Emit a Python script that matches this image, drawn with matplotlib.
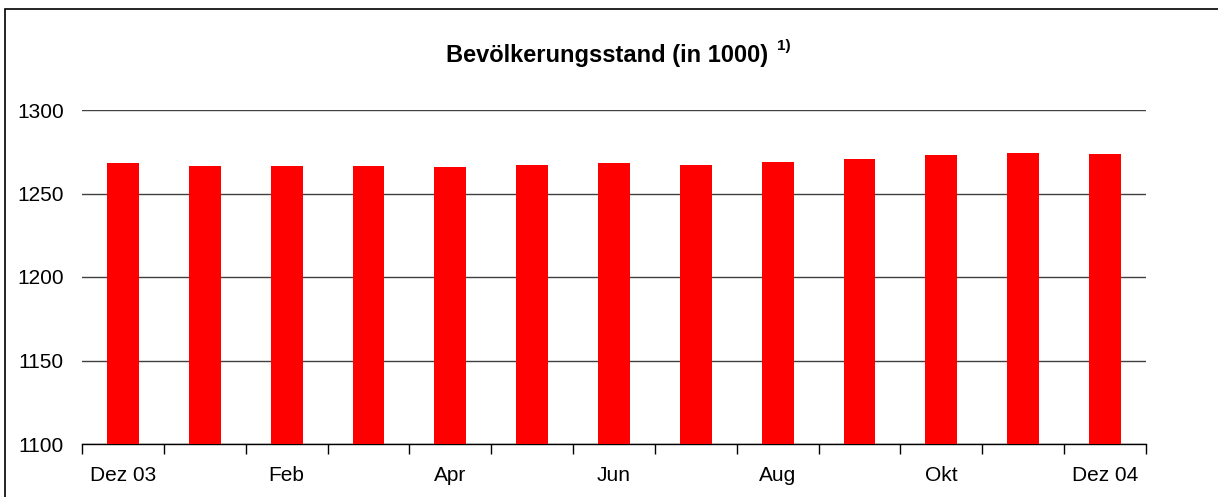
import matplotlib
matplotlib.use("Agg")
import matplotlib.pyplot as plt
from matplotlib.patches import Rectangle
from matplotlib.ticker import FixedLocator

plt.rcParams['font.family'] = ['Liberation Sans', 'DejaVu Sans']

# Monthly population (in 1000), Dez 03 .. Dez 04
months = ['Dez 03', 'Jan', 'Feb', 'Mrz', 'Apr', 'Mai', 'Jun',
          'Jul', 'Aug', 'Sep', 'Okt', 'Nov', 'Dez 04']
population = [1268.3, 1266.5, 1266.5, 1266.5, 1265.9, 1267.0, 1268.3,
              1267.0, 1268.9, 1270.7, 1273.1, 1274.3, 1273.7]
y_ticks = [1100, 1150, 1200, 1250, 1300]

RED = '#ff0000'
GRID = '#404040'

fig = plt.figure(figsize=(12.18, 4.97), dpi=100)
fig.patch.set_facecolor('white')
ax = fig.add_axes((82 / 1218, 1 - 444 / 497, (1146 - 82) / 1218, (444 - 110) / 497))

x = list(range(len(months)))
ax.bar(x, population, width=0.39, color=RED, zorder=3)

ax.set_xlim(-0.5, len(months) - 0.5)
ax.set_ylim(1100, 1300)
ax.set_yticks(y_ticks)
ax.yaxis.grid(True, color=GRID, linewidth=1)
ax.set_axisbelow(True)

# labels every second month, tick marks at category boundaries
ax.set_xticks(x[::2])
ax.set_xticklabels(months[::2])
ax.xaxis.set_minor_locator(FixedLocator([i - 0.5 for i in range(len(months) + 1)]))
ax.tick_params(axis='x', which='major', length=0, pad=16, labelsize=15)
ax.tick_params(axis='x', which='minor', length=7, width=1, color='black')
ax.tick_params(axis='y', length=0, pad=13, labelsize=15)

for side in ('left', 'right', 'top'):
    ax.spines[side].set_visible(False)
ax.spines['bottom'].set_linewidth(1)

# title with superscript footnote mark
fig.text(768 / 1218, 1 - 62 / 497, 'Bevölkerungsstand (in 1000)', ha='right', va='baseline',
         fontsize=17, fontweight='bold')
fig.text(777 / 1218, 1 - 50 / 497, '1)', ha='left', va='baseline',
         fontsize=11, fontweight='bold')

# outer frame (runs past right and bottom edges)
fig.patches.append(Rectangle((4.5 / 1218, -0.1), 1.2, 1.1 - 9 / 497,
                             transform=fig.transFigure, fill=False,
                             edgecolor='black', linewidth=1.2))

fig.savefig('out.png', dpi=100)
